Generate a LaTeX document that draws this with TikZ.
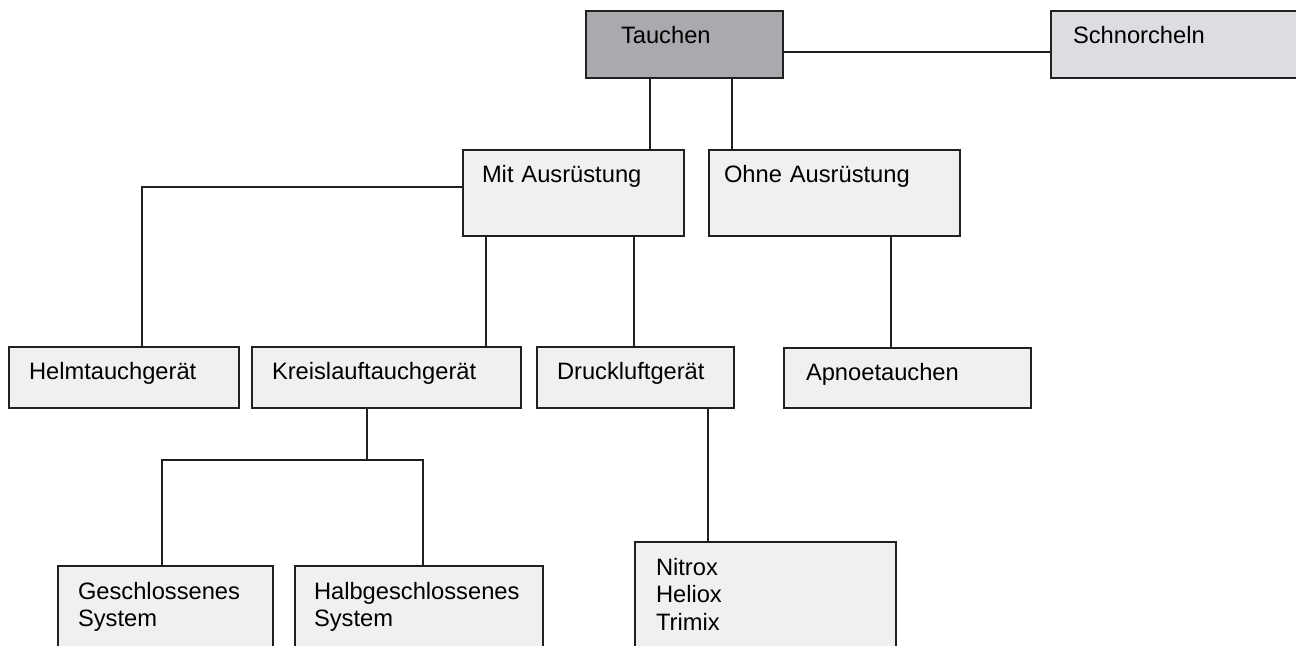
\documentclass[tikz,border=0pt]{standalone}
\usepackage{fontspec}
\setmainfont{Liberation Sans}
\usepackage{tikz}
\usetikzlibrary{positioning}
\definecolor{linec}{HTML}{231F20}
\definecolor{darkfill}{HTML}{A9AAAD}
\definecolor{midfill}{HTML}{DCDDE0}
\definecolor{lightfill}{HTML}{EFF0F0}
\hyphenpenalty=10000

\begin{document}
\begin{tikzpicture}[
  x=0.5pt, y=0.5pt,
  box/.style={rectangle, draw=linec, line width=1pt, fill=lightfill, anchor=north west,
              align=left, inner ysep=0pt, text height=16.5pt,
              font=\fontsize{11.85}{13.75}\selectfont},
  conn/.style={draw=linec, line width=1pt}
]
  \useasboundingbox (0,0) rectangle (1296,-646);
  \clip (0,0) rectangle (1296,-646);

  \node[box, fill=darkfill, text width=63.5pt, inner xsep=17.5pt, text depth=17pt]  (tauchen) at (585,-10)  {Tauchen};
  \node[box, fill=midfill, text width=108pt, inner xsep=11pt, text depth=17pt]      (schnorch) at (1050,-10) {Schnorcheln};
  \node[box, text width=91.5pt, inner xsep=9.5pt, text depth=26.5pt]   (mit)    at (462,-149) {Mit Ausrüstung};
  \node[box, text width=110.5pt, inner xsep=7.5pt, text depth=26.5pt]  (ohne)   at (708,-149) {Ohne Ausrüstung};
  \node[box, text width=95pt, inner xsep=10pt, text depth=14pt]        (helm)   at (8,-346)   {Helmtauchgerät};
  \node[box, text width=114.5pt, inner xsep=10pt, text depth=14pt]     (kreis)  at (251,-346) {Kreislauftauchgerät};
  \node[box, text width=78.5pt, inner xsep=10pt, text depth=14pt]      (druck)  at (536,-346) {Druckluftgerät};
  \node[box, text width=101.5pt, inner xsep=11pt, text depth=13.5pt]   (apnoe)  at (783,-347) {Apnoetauchen};
  \node[box, text width=87.5pt, inner xsep=10pt, text depth=40pt]      (geschl) at (57,-565)  {Geschlossenes\\System};
  \node[box, text width=105pt, inner xsep=9.5pt, text depth=40pt]      (halb)   at (294,-565) {Halbgeschlossenes\\System};
  \node[box, text width=109.5pt, inner xsep=10.5pt, text depth=50pt]   (gase)   at (634,-541) {Nitrox\\Heliox\\Trimix};

  \coordinate (ya) at (0,-52);
  \coordinate (yb) at (0,-187);
  \coordinate (yc) at (0,-460);
  \coordinate (xa) at (650,0);
  \coordinate (xb) at (732,0);
  \coordinate (xc) at (142,0);
  \coordinate (xd) at (486,0);
  \coordinate (xe) at (634,0);
  \coordinate (xf) at (891,0);
  \coordinate (xg) at (367,0);
  \coordinate (xh) at (162,0);
  \coordinate (xi) at (423,0);
  \coordinate (xj) at (708,0);

  \draw[conn] (tauchen.east |- ya) -- (schnorch.west |- ya);
  \draw[conn] (tauchen.south -| xa) -- (mit.north -| xa);
  \draw[conn] (tauchen.south -| xb) -- (ohne.north -| xb);
  \draw[conn] (mit.west |- yb) -| (helm.north -| xc);
  \draw[conn] (mit.south -| xd) -- (kreis.north -| xd);
  \draw[conn] (mit.south -| xe) -- (druck.north -| xe);
  \draw[conn] (ohne.south -| xf) -- (apnoe.north -| xf);
  \draw[conn] (kreis.south -| xg) -- (yc -| xg);
  \draw[conn] (geschl.north -| xh) |- (yc -| xi) -- (halb.north -| xi);
  \draw[conn] (druck.south -| xj) -- (gase.north -| xj);
\end{tikzpicture}
\end{document}
